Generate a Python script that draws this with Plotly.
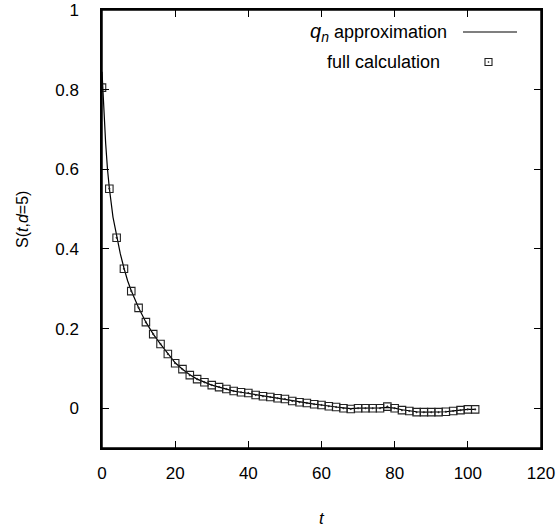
import plotly.graph_objects as go

# full calculation (squares)
t_full = list(range(0, 104, 2))
s_full = [0.805, 0.551, 0.428, 0.350, 0.294, 0.252, 0.216, 0.186, 0.161, 0.136,
          0.113, 0.098, 0.083, 0.073, 0.065, 0.058, 0.053, 0.048, 0.043, 0.040,
          0.038, 0.033, 0.030, 0.028, 0.025, 0.023, 0.018, 0.015, 0.013, 0.010,
          0.008, 0.005, 0.003, 0.000, -0.002, 0.000, 0.000, 0.000, 0.000, 0.004,
          0.000, -0.005, -0.007, -0.010, -0.010, -0.010, -0.010, -0.009, -0.007,
          -0.005, -0.003, -0.003]

# q_n approximation (line)
t_qn = [0, 0.5, 1, 1.5, 2, 3, 4, 5, 6, 7, 8, 9, 10, 12, 14, 16, 18, 20, 22, 24,
        26, 28, 30, 32, 34, 36, 38, 40, 42, 44, 46, 48, 50, 52, 54, 56, 58, 60,
        62, 64, 66, 68, 70, 72, 74, 76, 78, 80, 82, 84, 86, 88, 90, 92, 94, 96,
        98, 100, 102]
s_qn = [0.845, 0.75, 0.665, 0.600, 0.553, 0.480, 0.430, 0.388, 0.352, 0.320,
        0.295, 0.272, 0.252, 0.216, 0.186, 0.161, 0.136, 0.114, 0.098, 0.084,
        0.073, 0.065, 0.058, 0.053, 0.048, 0.043, 0.040, 0.037, 0.033, 0.030,
        0.028, 0.025, 0.022, 0.018, 0.015, 0.013, 0.010, 0.008, 0.005, 0.003,
        0.001, -0.001, 0.000, 0.000, 0.000, 0.001, 0.002, 0.000, -0.004, -0.007,
        -0.009, -0.010, -0.010, -0.010, -0.009, -0.007, -0.005, -0.003, -0.003]

x_ticks = [0, 20, 40, 60, 80, 100, 120]
y_ticks = [0, 0.2, 0.4, 0.6, 0.8, 1]
y_tick_text = ["0", "0.2", "0.4", "0.6", "0.8", "1"]

FONT = "Liberation Sans, Arial, Helvetica, sans-serif"

fig = go.Figure()
fig.add_trace(go.Scatter(x=t_qn, y=s_qn, mode="lines",
                         line=dict(color="black", width=1.2),
                         showlegend=False))
fig.add_trace(go.Scatter(x=t_full, y=s_full, mode="markers",
                         marker=dict(symbol="square-open-dot", size=7.5,
                                     color="#222222", line=dict(width=1.1)),
                         showlegend=False))

L, R, T, B = 102, 541, 10, 448
W, H = 557, 529


def px(x):
    return (x - L) / (R - L)


def py(y):
    return (B - y) / (B - T)


axis_common = dict(showline=True, linecolor="black", linewidth=1.5,
                   mirror="allticks", ticks="inside", ticklen=7,
                   tickwidth=1.3, tickcolor="black", showgrid=False,
                   zeroline=False, ticklabeloverflow="allow",
                   automargin=False,
                   tickfont=dict(family=FONT, size=17, color="black"))

fig.update_xaxes(range=[0, 120], tickvals=x_ticks, ticklabelstandoff=9,
                 **axis_common)
fig.update_yaxes(range=[-0.1, 1], tickvals=y_ticks, ticktext=y_tick_text,
                 ticklabelstandoff=18, **axis_common)

annotations = [
    dict(text="<i>t</i>", x=px(322), y=py(518), xref="paper", yref="paper",
         showarrow=False, font=dict(family=FONT, size=17, color="black"),
         xanchor="center", yanchor="middle"),
    dict(text="S(<i>t</i>,<i>d</i>=5)", x=px(22), y=py(220), xref="paper",
         yref="paper", showarrow=False, textangle=-90,
         font=dict(family=FONT, size=16, color="black"),
         xanchor="center", yanchor="middle"),
    dict(text="<span style='font-size:20px'><i>q<sub>n</sub></i></span> approximation",
         x=px(449), y=py(32),
         xref="paper", yref="paper", showarrow=False,
         font=dict(family=FONT, size=18, color="black"),
         xanchor="right", yanchor="middle"),
    dict(text="full calculation", x=px(442), y=py(62),
         xref="paper", yref="paper", showarrow=False,
         font=dict(family=FONT, size=18, color="black"),
         xanchor="right", yanchor="middle"),
]

shapes = [
    dict(type="rect", xref="paper", yref="paper", x0=0, x1=1, y0=0, y1=1,
         line=dict(color="black", width=1.5), layer="above"),
    dict(type="line", xref="paper", yref="paper", x0=px(463), x1=px(517),
         y0=py(32), y1=py(32), line=dict(color="black", width=1.2)),
    dict(type="rect", xref="paper", yref="paper", x0=px(485), x1=px(492),
         y0=py(58.5), y1=py(65.5), line=dict(color="#222222", width=1.1)),
    dict(type="rect", xref="paper", yref="paper", x0=px(488), x1=px(489),
         y0=py(61.5), y1=py(62.5), line=dict(color="#444444", width=0.6),
         fillcolor="#444444"),
]

fig.update_layout(width=W, height=H, plot_bgcolor="white",
                  paper_bgcolor="white",
                  margin=dict(l=L, r=W - R, t=T, b=H - B, autoexpand=False),
                  annotations=annotations, shapes=shapes,
                  font=dict(family=FONT, size=17, color="black"))

fig.write_html("out.html", config={"displayModeBar": False},
               post_script="document.body.style.margin='0';"
                           "document.body.style.padding='0';")
